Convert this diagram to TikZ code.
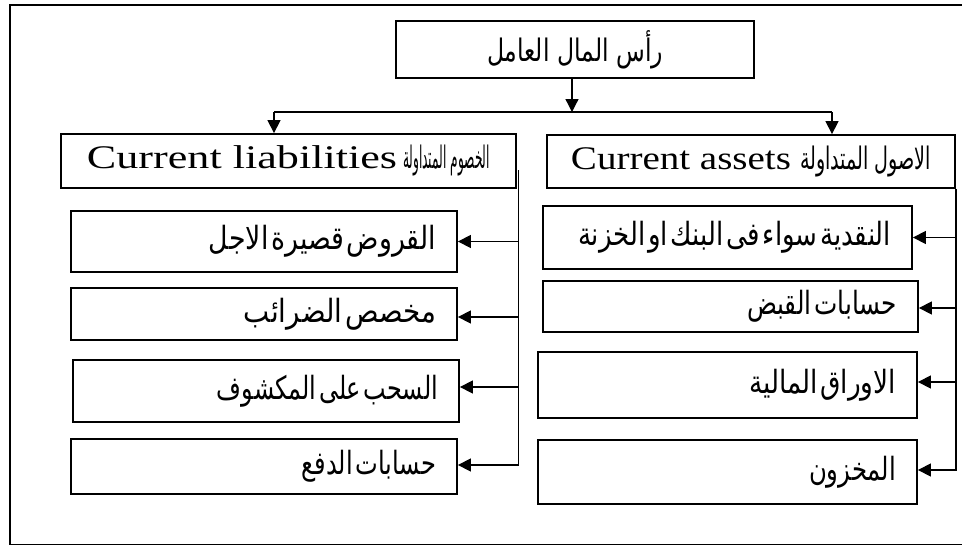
\documentclass[tikz,border=0pt]{standalone}
\usepackage{fontspec}
\setmainfont{Liberation Serif}
\newfontfamily\arabicfont[Script=Arabic]{DejaVu Sans}
\TeXXeTstate=1
\usetikzlibrary{arrows.meta}
% Arabic run: width, font size, text
\newcommand{\artxt}[3]{\resizebox{#1}{\height}{\fontsize{#2}{#2}\arabicfont #3}}
% Latin run: width, font size, text
\newcommand{\latxt}[3]{\resizebox{#1}{\height}{\fontsize{#2}{#2}\selectfont #3}}
\begin{document}
\begin{tikzpicture}[x=1pt,y=-1pt,
  box/.style={draw, line width=1.8pt, inner sep=0pt},
  child/.style={box, inner xsep=21pt, align=right},
  conn/.style={line width=1.3pt},
  arr/.style={conn, -{Triangle[length=13pt,width=13pt]}}
]
\useasboundingbox (0,0) rectangle (962,546);
% outer frame
\draw[line width=1.3pt] (10,5) rectangle (975,544.5);

% top
\node[box, minimum width=358pt, minimum height=57pt] (T) at (575,49.5)
  {\artxt{176pt}{31}{\beginR رأس المال العامل\endR}};

% second level
\node[box, minimum width=455pt, minimum height=54pt] (LH) at (288.5,161)
  {\latxt{310pt}{33}{Current liabilities}\hspace{6pt}\artxt{87pt}{31}{\beginR الخصوم المتداولة\endR}};
\node[box, minimum width=408pt, minimum height=53pt] (RH) at (751,161.5)
  {\latxt{220pt}{33}{Current assets}\hspace{9pt}\artxt{131pt}{31}{\beginR الاصول المتداولة\endR}};

% liabilities
\node[child, text width=344pt, minimum height=61pt] (L1) at (264,241.5)
  {\artxt{227pt}{32}{\beginR القروض قصيرة الاجل\endR}};
\node[child, text width=344pt, minimum height=52pt] (L2) at (264,314)
  {\artxt{192pt}{32}{\beginR مخصص الضرائب\endR}};
\node[child, text width=344pt, minimum height=62pt] (L3) at (266,391)
  {\artxt{221pt}{32}{\beginR السحب على المكشوف\endR}};
\node[child, text width=344pt, minimum height=55pt] (L4) at (264,466.5)
  {\artxt{134pt}{32}{\beginR حسابات الدفع\endR}};

% assets
\node[child, text width=327pt, minimum height=63pt] (R1) at (727.5,237.5)
  {\artxt{313pt}{32}{\beginR النقدية سواء فى البنك او الخزنة\endR}};
\node[child, text width=333pt, minimum height=51pt] (R2) at (730.5,306.5)
  {\artxt{150pt}{32}{\beginR حسابات القبض\endR}};
\node[child, text width=337pt, minimum height=66pt] (R3) at (727.5,385)
  {\artxt{147pt}{32}{\beginR الاوراق المالية\endR}};
\node[child, text width=337pt, minimum height=64pt] (R4) at (727.5,472)
  {\artxt{87pt}{32}{\beginR المخزون\endR}};

% split below the top box
\coordinate (bar) at (572,112);
\coordinate (barL) at (274,112);
\coordinate (barR) at (832,112);
\draw[arr] (T.south -| bar) -- (bar);
\draw[conn] (barL) -- (barR);
\draw[arr] (barL) -- (barL |- LH.north);
\draw[arr] (barR) -- (barR |- RH.north);

% liabilities trunk
\coordinate (trunkL) at ([xshift=1.5pt,yshift=-9pt]LH.east);
\draw[arr] (L1.east -| trunkL) -- (L1.east);
\draw[arr] ([yshift=-3pt]L2.east -| trunkL) -- ([yshift=-3pt]L2.east);
\draw[arr] ([yshift=4pt]L3.east -| trunkL) -- ([yshift=4pt]L3.east);
\draw[arr] (trunkL) |- ([yshift=1.5pt]L4.east);

% assets trunk
\coordinate (trunkR) at (RH.south east);
\draw[arr] (R1.east -| trunkR) -- (R1.east);
\draw[arr] ([yshift=-1.5pt]R2.east -| trunkR) -- ([yshift=-1.5pt]R2.east);
\draw[arr] ([yshift=3pt]R3.east -| trunkR) -- ([yshift=3pt]R3.east);
\draw[arr] (trunkR) |- ([yshift=2pt]R4.east);
\end{tikzpicture}
\end{document}
